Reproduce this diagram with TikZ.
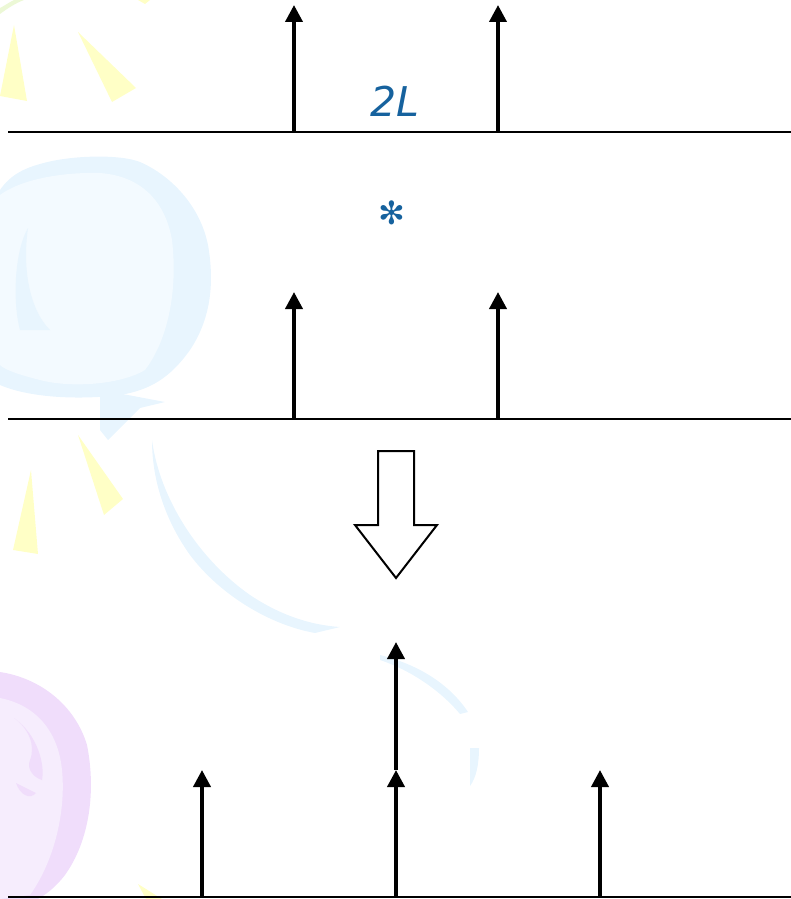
\documentclass[tikz,border=0pt]{standalone}
\usepackage{fontspec}
\usetikzlibrary{arrows.meta}
\newfontfamily\labelfont{DejaVu Sans}
\definecolor{labelblue}{RGB}{22,98,158}
\definecolor{sunray}{RGB}{255,255,198}
\definecolor{leafgreen}{RGB}{236,248,214}
\definecolor{swirlout}{RGB}{232,245,254}
\definecolor{swirlin}{RGB}{243,250,255}
\definecolor{plumout}{RGB}{240,221,251}
\definecolor{plumin}{RGB}{246,237,253}
\tikzset{
  axisline/.style={line width=2.4pt, black},
  spike/.style={line width=3.8pt, black, -{Triangle[width=17pt,length=17pt]}},
  bigarrow/.style={line width=2pt, black, fill=white, line join=miter},
  ray/.style={fill=sunray, draw=none},
}
\begin{document}
\begin{tikzpicture}[x=1pt,y=-1pt]
\useasboundingbox (0,0) rectangle (791,899);

% ---- pale background decorations ----
% sun rays
\fill[leafgreen] (0,14) .. controls (8,8) and (16,3) .. (24,0) -- (14,0) .. controls (8,3) and (4,6) .. (0,8) -- cycle;
\fill[ray] (138,0) -- (150,0) -- (145,4) -- cycle;
\fill[ray] (14,25) -- (0,96) -- (27,101) -- cycle;
\fill[ray] (78,32) -- (112,102) -- (136,88) -- cycle;
\fill[ray] (31,470) -- (13,550) -- (38,554) -- cycle;
\fill[ray] (78,435) -- (104,515) -- (123,499) -- cycle;
\fill[ray] (138,884) -- (162,899) -- (146,899) -- cycle;

% blue swirl
\fill[swirlout] (0,190) .. controls (10,175) and (25,168) .. (40,164)
  .. controls (70,155) and (120,154) .. (140,162)
  .. controls (170,175) and (200,205) .. (208,245)
  .. controls (215,285) and (210,320) .. (190,350)
  .. controls (170,378) and (150,390) .. (120,395)
  .. controls (80,400) and (30,398) .. (0,385) -- cycle;
\fill[swirlin] (0,195) .. controls (20,180) and (60,172) .. (100,173)
  .. controls (140,176) and (165,200) .. (172,240)
  .. controls (178,290) and (168,340) .. (145,370)
  .. controls (120,385) and (70,388) .. (40,380)
  .. controls (20,375) and (5,370) .. (0,365) -- cycle;
\fill[swirlout] (28,228) .. controls (15,250) and (12,300) .. (20,330)
  -- (50,330) .. controls (30,310) and (22,270) .. (28,228) -- cycle;
\fill[swirlout] (100,395) -- (112,392) -- (165,402) -- (140,408)
  -- (108,440) -- (100,430) -- cycle;
% long blue arc
\fill[swirlout] (152,440) .. controls (160,500) and (200,560) .. (250,595)
  .. controls (280,615) and (310,625) .. (340,627)
  -- (315,633) .. controls (270,625) and (220,595) .. (190,555)
  .. controls (165,520) and (152,480) .. (152,440) -- cycle;
\fill[swirlout] (380,655) .. controls (420,665) and (450,685) .. (468,712)
  -- (460,714) .. controls (440,690) and (410,670) .. (380,660) -- cycle;
\fill[swirlout] (470,748) -- (479,748) .. controls (479,765) and (476,778) .. (470,786) -- cycle;

% purple swirl
\fill[plumout] (0,672) .. controls (40,678) and (75,705) .. (87,745)
  .. controls (96,790) and (90,840) .. (65,875)
  .. controls (55,888) and (45,895) .. (38,899) -- (0,899) -- cycle;
\fill[plumin] (0,698) .. controls (35,705) and (58,730) .. (62,770)
  .. controls (66,810) and (55,860) .. (30,895) -- (0,899) -- cycle;
\fill[plumout] (14,718) .. controls (28,728) and (36,745) .. (30,760)
  .. controls (26,770) and (35,778) .. (42,780)
  .. controls (45,765) and (38,735) .. (14,718) -- cycle;
\fill[plumout] (16,783) .. controls (20,795) and (30,800) .. (36,793) -- cycle;

% ---- first line: two impulses spaced 2L ----
\coordinate (axAl) at (8,132);  \coordinate (axAr) at (791,132);
\draw[axisline] (axAl) -- (axAr);
\coordinate (pA1b) at (294,132); \coordinate (pA1t) at (294,5);
\coordinate (pA2b) at (498,132); \coordinate (pA2t) at (498,5);
\draw[spike] (pA1b) -- (pA1t);
\draw[spike] (pA2b) -- (pA2t);
\node[font={\labelfont\itshape\fontsize{41}{41}\selectfont}, text=labelblue] (spacing) at (395,101) {2L};

% convolution sign
\node[font={\labelfont\fontsize{32}{32}\selectfont}, text=labelblue] (conv) at (392,213) {✻};

% ---- second line ----
\coordinate (axBl) at (8,419);  \coordinate (axBr) at (791,419);
\draw[axisline] (axBl) -- (axBr);
\coordinate (pB1b) at (294,419); \coordinate (pB1t) at (294,292);
\coordinate (pB2b) at (498,419); \coordinate (pB2t) at (498,292);
\draw[spike] (pB1b) -- (pB1t);
\draw[spike] (pB2b) -- (pB2t);

% ---- result arrow ----
\draw[bigarrow] (378,451) -- (414,451) -- (414,525) -- (437,525) -- (396,578)
  -- (355,525) -- (378,525) -- cycle;

% ---- result line ----
\coordinate (axCl) at (8,897);  \coordinate (axCr) at (791,897);
\draw[axisline] (axCl) -- (axCr);
\coordinate (pC1b) at (202,897); \coordinate (pC1t) at (202,770);
\coordinate (pC2b) at (396,897); \coordinate (pC2t) at (396,770);
\coordinate (pC3b) at (600,897); \coordinate (pC3t) at (600,770);
\coordinate (pC2top) at (396,642);
\draw[spike] (pC1b) -- (pC1t);
\draw[spike] (pC2b) -- (pC2t);
\draw[spike] (pC2t) -- (pC2top);
\draw[spike] (pC3b) -- (pC3t);
\end{tikzpicture}
\end{document}
